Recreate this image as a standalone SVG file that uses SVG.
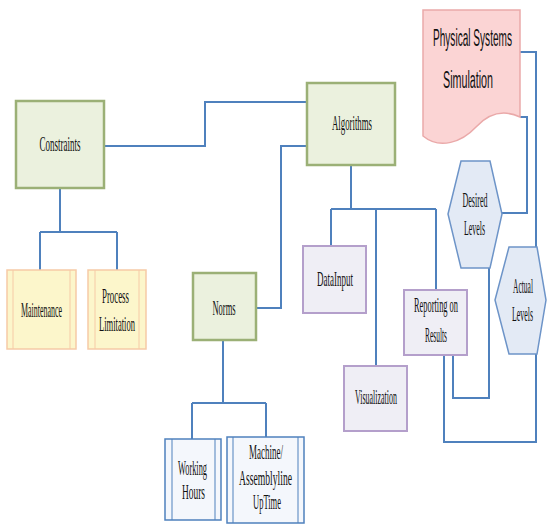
<svg xmlns="http://www.w3.org/2000/svg" width="547" height="525" viewBox="0 0 547 525">
<style>
.t{font-family:"Liberation Serif",serif;font-size:22px;fill:#111;text-anchor:middle}
.s{font-family:"Liberation Sans",sans-serif;font-size:23px;fill:#111;text-anchor:middle}
.g{fill:#ebf1de;stroke:#9bb076;stroke-width:2.5}
.y{fill:#fcf6cb;stroke:#f6caa6;stroke-width:1.5}
.yi{stroke:#f6caa6;stroke-width:1}
.p{fill:#efeef5;stroke:#b49fcb;stroke-width:2}
.b{fill:#f4f7fc;stroke:#4f81bd;stroke-width:1.5}
.bi{stroke:#4f81bd;stroke-width:1}
.h{fill:#e3eaf5;stroke:#6d94c8;stroke-width:1.5}
.c{fill:none;stroke:#4f81bd;stroke-width:2}
</style>
<g id="connectors">
<path class="c" d="M104,146 H205 V102 H307"/>
<path class="c" d="M256,308 H281 V146 H307"/>
<path class="c" d="M60,188 V232 M40,232 H117 M40,232 V270 M117,232 V270"/>
<path class="c" d="M351,165 V209 M331,209 H436 M331,209 V246 M376,209 V366 M436,209 V290"/>
<path class="c" d="M223,340 V403 M192,403 H266 M192,403 V439 M266,403 V437"/>
<path class="c" d="M444,355 V442 H536 V354"/>
<path class="c" d="M453,355 V398 H489 V268"/>
<path class="c" d="M520,52 H536 V247"/>
<path class="c" d="M520,117 H527 V213 H502"/>
</g>
<g id="constraints">
<rect class="g" x="16" y="101" width="88" height="87"/>
<text class="t" x="60" y="151" textLength="41" lengthAdjust="spacingAndGlyphs">Constraints</text>
</g>
<g id="algorithms">
<rect class="g" x="307" y="83" width="88" height="82"/>
<text class="t" x="352" y="130" textLength="40" lengthAdjust="spacingAndGlyphs">Algorithms</text>
</g>
<g id="maintenance">
<rect class="y" x="7" y="270" width="69" height="79"/>
<path class="yi" d="M13,270 V349 M70,270 V349"/>
<text class="t" x="41.5" y="317" textLength="41" lengthAdjust="spacingAndGlyphs">Maintenance</text>
</g>
<g id="process-limitation">
<rect class="y" x="88" y="270" width="58" height="79"/>
<path class="yi" d="M95,270 V349 M139,270 V349"/>
<text class="t" x="115.5" y="303" textLength="27" lengthAdjust="spacingAndGlyphs">Process</text>
<text class="t" x="117" y="331" textLength="36" lengthAdjust="spacingAndGlyphs">Limitation</text>
</g>
<g id="norms">
<rect class="g" x="193" y="273" width="63" height="67"/>
<text class="t" x="224" y="315" textLength="23" lengthAdjust="spacingAndGlyphs">Norms</text>
</g>
<g id="data-input">
<rect class="p" x="303" y="246" width="63" height="67"/>
<text class="t" x="335" y="286" textLength="36" lengthAdjust="spacingAndGlyphs">DataInput</text>
</g>
<g id="visualization">
<rect class="p" x="344" y="366" width="63" height="65"/>
<text class="t" x="376" y="404" textLength="42" lengthAdjust="spacingAndGlyphs">Visualization</text>
</g>
<g id="reporting">
<rect class="p" x="404" y="290" width="63" height="65"/>
<text class="t" x="436" y="312" textLength="44" lengthAdjust="spacingAndGlyphs">Reporting on</text>
<text class="t" x="436" y="342" textLength="22" lengthAdjust="spacingAndGlyphs">Results</text>
</g>
<g id="working-hours">
<rect class="b" x="165" y="439" width="56" height="81"/>
<path class="bi" d="M172,439 V520 M215,439 V520"/>
<text class="t" x="192.5" y="475" textLength="29" lengthAdjust="spacingAndGlyphs">Working</text>
<text class="t" x="193.5" y="499" textLength="23" lengthAdjust="spacingAndGlyphs">Hours</text>
</g>
<g id="machine-uptime">
<rect class="b" x="227" y="437" width="77" height="86"/>
<path class="bi" d="M233,437 V523 M298,437 V523"/>
<text class="t" x="266" y="459" textLength="34" lengthAdjust="spacingAndGlyphs">Machine/</text>
<text class="t" x="265.5" y="485" textLength="53" lengthAdjust="spacingAndGlyphs">Assemblyline</text>
<text class="t" x="267" y="509" textLength="28" lengthAdjust="spacingAndGlyphs">UpTime</text>
</g>
<g id="physical-systems-simulation">
<path d="M423,10 H520 V117 C505,110 490,112 476,127 C462,142 440,150 423,136 Z" fill="#fbd4d4" stroke="#eaa9a9" stroke-width="1.5"/>
<text class="s" x="472.5" y="46" textLength="79" lengthAdjust="spacingAndGlyphs">Physical Systems</text>
<text class="s" x="468" y="88" textLength="50" lengthAdjust="spacingAndGlyphs">Simulation</text>
</g>
<g id="desired-levels">
<polygon class="h" points="461,161 490,161 502,214 490,268 461,268 448,214"/>
<text class="t" x="475" y="207" textLength="25" lengthAdjust="spacingAndGlyphs">Desired</text>
<text class="t" x="474.5" y="235" textLength="21" lengthAdjust="spacingAndGlyphs">Levels</text>
</g>
<g id="actual-levels">
<polygon class="h" points="509,247 537,247 546,300 537,354 509,354 495,300"/>
<text class="t" x="523" y="293" textLength="20" lengthAdjust="spacingAndGlyphs">Actual</text>
<text class="t" x="522.5" y="321" textLength="21" lengthAdjust="spacingAndGlyphs">Levels</text>
</g>
</svg>
